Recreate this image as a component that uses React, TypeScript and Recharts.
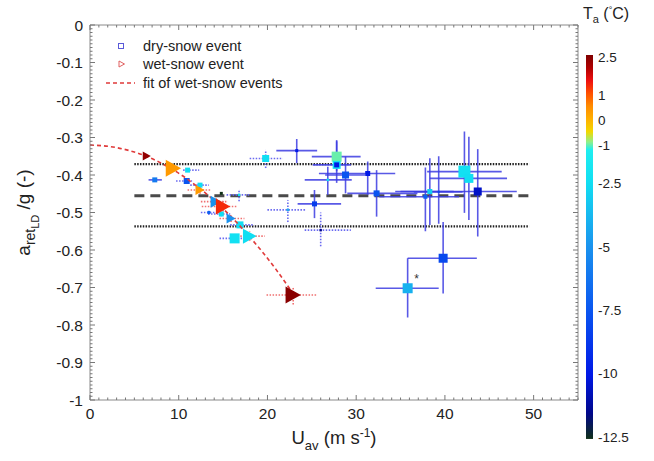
import {
  ScatterChart,
  Scatter,
  XAxis,
  YAxis,
  ErrorBar,
  ReferenceLine,
  ReferenceDot,
} from "recharts";

const FONT = '"Liberation Sans", Arial, Helvetica, sans-serif';

// columns: U_av, a/g, U min, U max, a/g min, a/g max, T_a (°C), released mass (rel.)
const dryEvents = [
  [23.3, -0.335, 21.0, 25.6, -0.368, -0.304, -10, 1.5],
  [27.8, -0.351, 25.0, 30.5, -0.39, -0.31, -1, 5],
  [27.8, -0.373, 25.1, 29.4, -0.421, -0.307, -2.5, 4],
  [27.8, -0.373, 27.8, 27.8, -0.373, -0.373, -10, 2.5],
  [28.8, -0.4, 26.5, 31.0, -0.449, -0.351, -7.5, 3.5],
  [31.3, -0.396, 25.8, 34.4, -0.453, -0.364, -10, 2.5],
  [32.3, -0.449, 29.0, 36.9, -0.511, -0.387, -7.5, 3],
  [25.3, -0.477, 23.4, 28.3, -0.515, -0.44, -8.5, 2.5],
  [26.8, -0.413, 24.2, 29.5, -0.453, -0.378, -2.5, 1.2],
  [42.2, -0.391, 38.0, 46.4, -0.501, -0.284, -2.3, 6],
  [42.7, -0.409, 38.3, 47.0, -0.52, -0.298, -2.5, 4.5],
  [43.7, -0.444, 34.4, 48.1, -0.564, -0.331, -10.5, 4],
  [38.3, -0.444, 35.0, 41.0, -0.533, -0.355, -3, 2.5],
  [37.8, -0.458, 32.6, 41.6, -0.55, -0.38, -7, 2],
  [39.3, -0.445, 36.5, 42.0, -0.53, -0.35, -8, 1],
  [39.8, -0.622, 35.8, 43.6, -0.716, -0.525, -8, 4.5],
  [35.8, -0.702, 32.2, 39.3, -0.78, -0.622, -4, 5],
  [7.3, -0.413, 6.6, 8.1, -0.418, -0.408, -6, 2.5],
];

// dry-snow events with less certain speed / deceleration
const dryEventsUncertain = [
  [19.8, -0.356, 18.0, 21.7, -0.381, -0.333, -2.5, 3.5],
  [22.3, -0.493, 20.0, 24.3, -0.525, -0.467, -4, 1.2],
  [26.0, -0.547, 24.2, 29.4, -0.59, -0.5, -11.5, 1.2],
  [10.9, -0.416, 9.7, 11.5, -0.42, -0.412, -7.5, 3],
  [11.0, -0.387, 10.5, 12.3, -0.392, -0.382, -2.5, 2.5],
  [16.3, -0.569, 14.6, 17.6, -0.58, -0.558, -2.3, 5],
  [16.9, -0.533, 15.8, 18.5, -0.54, -0.526, -2.5, 3.5],
  [14.8, -0.504, 13.3, 15.8, -0.51, -0.498, -2.5, 2.5],
  [16.8, -0.453, 15.4, 18.0, -0.47, -0.44, -2.5, 1.2],
  [14.8, -0.449, 14.8, 14.8, -0.449, -0.449, -12.5, 1.5],
  [12.4, -0.427, 11.3, 13.4, -0.433, -0.421, -2.5, 2.5],
  [13.4, -0.5, 12.5, 14.5, -0.505, -0.495, -7, 1.5],
];

const wetEvents = [
  [6.4, -0.349, 6.4, 6.4, -0.349, -0.349, 2.3, 4.5],
  [9.4, -0.382, 9.4, 9.4, -0.382, -0.382, 0.3, 8.5],
  [12.4, -0.44, 11.0, 13.6, -0.45, -0.43, 0.3, 5],
  [14.2, -0.471, 12.5, 15.5, -0.48, -0.462, -5, 6],
  [15.0, -0.484, 12.6, 16.5, -0.505, -0.465, 1.3, 8],
  [15.9, -0.516, 14.6, 17.4, -0.525, -0.508, -5, 5],
  [18.0, -0.563, 16.6, 19.7, -0.575, -0.55, -2.5, 7.5],
  [22.9, -0.72, 19.9, 25.5, -0.745, -0.7, 2.4, 8.5],
];

// fit of the wet-snow events
const fitU = [0, 3, 6, 9, 12, 15, 18, 21, 23];
const fitA = [-0.32, -0.327, -0.347, -0.381, -0.429, -0.49, -0.565, -0.653, -0.72];

// dry-snow mean and spread
const dryMean = -0.455;
const dryBand = [-0.371, -0.537];
const bandU = [5, 49.5];

const xTicks = [0, 10, 20, 30, 40, 50];
const yTicks = [0, -0.1, -0.2, -0.3, -0.4, -0.5, -0.6, -0.7, -0.8, -0.9, -1];
const tempTicks = [2.5, 1, 0, -1, -2.5, -5, -7.5, -10, -12.5];

// every tick position along the edges (labels only on the major ones)
const xAllTicks = Array.from({ length: 56 }, (_, i) => i);
const yAllTicks = Array.from({ length: 101 }, (_, i) => -i / 100);

const T_MAX = 2.5;
const T_MIN = -12.5;

const tempStops: [number, string][] = [
  [2.5, "#7f0000"],
  [2.0, "#b00000"],
  [1.5, "#ee1010"],
  [1.0, "#ff5000"],
  [0.5, "#ff8c00"],
  [0.0, "#ffb000"],
  [-0.5, "#f2d800"],
  [-0.9, "#8ff08a"],
  [-1.2, "#20eef0"],
  [-2.5, "#10def2"],
  [-3.5, "#16c0f0"],
  [-5, "#1a92ee"],
  [-7.5, "#0a55f0"],
  [-10, "#0018e6"],
  [-11.5, "#00078a"],
  [-12.5, "#103018"],
];

const rgb = (h: string) => [1, 3, 5].map((i) => parseInt(h.slice(i, i + 2), 16));

function tempColor(t: number) {
  if (t >= tempStops[0][0]) return tempStops[0][1];
  for (let i = 1; i < tempStops.length; i++) {
    const [t1, c1] = tempStops[i];
    const [t0, c0] = tempStops[i - 1];
    if (t >= t1) {
      const f = (t0 - t) / (t0 - t1);
      const a = rgb(c0);
      const b = rgb(c1);
      const m = a.map((v, k) => Math.round(v + (b[k] - v) * f));
      return `rgb(${m.join(",")})`;
    }
  }
  return tempStops[tempStops.length - 1][1];
}

const toRows = (rows: number[][]) =>
  rows.map(([u, a, uLo, uHi, aLo, aHi, t, m]) => ({
    u,
    a,
    uErr: [u - uLo, uHi - u],
    aErr: [a - aLo, aHi - a],
    t,
    m,
  }));

const dryRows = toRows(dryEvents);
const dryUncertainRows = toRows(dryEventsUncertain);
const wetRows = toRows(wetEvents);
const fitRows = fitU.map((u, i) => ({ u, a: fitA[i] }));

const W = 654;
const H = 461;
const MARGIN = { top: 25, right: 76, bottom: 31, left: 40 };
const X_AXIS_H = 30;
const Y_AXIS_W = 50;
const PLOT_W = W - MARGIN.left - MARGIN.right - Y_AXIS_W;
const PLOT_H = H - MARGIN.top - MARGIN.bottom - X_AXIS_H;
const AXIS_GREY = "#8a8a8a";

const Square = (p: any) => {
  const s = 2 * p.payload.m;
  return (
    <rect
      x={p.cx - s / 2}
      y={p.cy - s / 2}
      width={s}
      height={s}
      fill={tempColor(p.payload.t)}
    />
  );
};

const Triangle = (p: any) => {
  const h = 2 * p.payload.m;
  const w = h * 0.9;
  const { cx, cy } = p;
  return (
    <polygon
      points={`${cx - w / 2},${cy - h / 2} ${cx + w / 2},${cy} ${cx - w / 2},${cy + h / 2}`}
      fill={tempColor(p.payload.t)}
    />
  );
};

const NoMark = () => <g />;

const isMajor = (v: number, major: number[]) => major.some((m) => Math.abs(m - v) < 1e-6);
const fmtY = (v: number) => String(+v.toFixed(1));
const labelStyle = { fontSize: 15.5, fill: "#222", fontFamily: FONT };

// bottom ticks point inward, with matching ticks on the top edge
const BottomTick = (p: any) => {
  const v = p.payload.value;
  const major = isMajor(v, xTicks);
  const len = major ? 5 : 2.5;
  return (
    <g>
      <line x1={p.x} y1={p.y} x2={p.x} y2={p.y - len} stroke="#777" />
      <line x1={p.x} y1={p.y - PLOT_H} x2={p.x} y2={p.y - PLOT_H + len} stroke="#777" />
      {major && (
        <text x={p.x} y={p.y + 8} dy="0.71em" textAnchor="middle" {...labelStyle}>
          {v}
        </text>
      )}
    </g>
  );
};

// left ticks point inward, with matching ticks on the right edge
const LeftTick = (p: any) => {
  const v = p.payload.value;
  const major = isMajor(v, yTicks);
  const len = major ? 5 : 2.5;
  return (
    <g>
      <line x1={p.x} y1={p.y} x2={p.x + len} y2={p.y} stroke="#777" />
      <line x1={p.x + PLOT_W} y1={p.y} x2={p.x + PLOT_W - len} y2={p.y} stroke="#777" />
      {major && (
        <text x={p.x - 7} y={p.y} dy="0.36em" textAnchor="end" {...labelStyle}>
          {fmtY(v)}
        </text>
      )}
    </g>
  );
};

const XTitle = ({ viewBox }: any) => (
  <text
    x={viewBox.x + viewBox.width / 2}
    y={viewBox.y + 44}
    textAnchor="middle"
    fontSize={18.5}
    fill="#222"
    fontFamily={FONT}
  >
    U<tspan dy={6} fontSize={13}>av</tspan>
    <tspan dy={-6}> (m s</tspan>
    <tspan dy={-7} fontSize={12}>-1</tspan>
    <tspan dy={7}>)</tspan>
  </text>
);

const YTitle = ({ viewBox }: any) => {
  const x = viewBox.x - 10;
  const y = viewBox.y + viewBox.height / 2;
  return (
    <text
      x={x}
      y={y}
      transform={`rotate(-90, ${x}, ${y})`}
      textAnchor="middle"
      fontSize={19}
      fill="#222"
      fontFamily={FONT}
    >
      a<tspan dy={5} fontSize={14}>ret</tspan>
      <tspan dy={4} fontSize={11}>LD</tspan>
      <tspan dy={-9}> /g (-)</tspan>
    </text>
  );
};

const CB_TOP = 57;
const CB_PX = 25.33;
const cbY = (t: number) => CB_TOP + (T_MAX - t) * CB_PX;

function Overlay() {
  return (
    <svg
      width={W}
      height={H}
      style={{ position: "absolute", left: 0, top: 0, pointerEvents: "none" }}
      fontFamily={FONT}
    >
      <defs>
        <linearGradient id="tempScale" x1="0" y1="0" x2="0" y2="1">
          {tempStops.map(([t, c]) => (
            <stop key={t} offset={(T_MAX - t) / (T_MAX - T_MIN)} stopColor={c} />
          ))}
        </linearGradient>
      </defs>

      {/* legend */}
      <rect x={118.5} y={43.5} width={5} height={5} fill="none" stroke="#5a5ad8" />
      <polygon points="119,61 124.5,64 119,67" fill="none" stroke="#e06060" />
      <line x1={106} y1={83} x2={135} y2={83} stroke="#e03a3a" strokeWidth={1.5} strokeDasharray="4 3" />
      <text x={143} y={51} fontSize={14.5} fill="#222">dry-snow event</text>
      <text x={143} y={69} fontSize={14.5} fill="#222">wet-snow event</text>
      <text x={143} y={88} fontSize={14.5} fill="#222">fit of wet-snow events</text>

      {/* colour scale */}
      <text x={583} y={19} fontSize={16} fill="#222">
        T<tspan dy={4} fontSize={11}>a</tspan>
        <tspan dy={-4}> (</tspan>
        <tspan dy={-6} fontSize={9}>°</tspan>
        <tspan dy={6}>C)</tspan>
      </text>
      <rect x={586} y={cbY(T_MAX) - 2} width={7} height={cbY(T_MIN) - cbY(T_MAX) + 4} fill="url(#tempScale)" />
      {tempTicks.map((t) => (
        <text key={t} x={598} y={cbY(t)} dy="0.35em" fontSize={13.5} fill="#222">
          {t}
        </text>
      ))}
    </svg>
  );
}

export default function App() {
  return (
    <div
      style={{
        position: "absolute",
        left: 0,
        top: 0,
        width: W,
        height: H,
        background: "#fff",
        fontFamily: FONT,
      }}
    >
      <ScatterChart width={W} height={H} margin={MARGIN}>
        <XAxis
          type="number"
          dataKey="u"
          domain={[0, 55]}
          ticks={xAllTicks}
          allowDataOverflow
          interval={0}
          tickLine={false}
          tickSize={0}
          tickMargin={0}
          tick={BottomTick}
          axisLine={{ stroke: AXIS_GREY }}
          height={X_AXIS_H}
          label={{ content: XTitle }}
        />
        <YAxis
          type="number"
          dataKey="a"
          domain={[-1, 0]}
          ticks={yAllTicks}
          allowDataOverflow
          interval={0}
          tickLine={false}
          tickSize={0}
          tickMargin={0}
          tick={LeftTick}
          axisLine={{ stroke: AXIS_GREY }}
          width={Y_AXIS_W}
          label={{ content: YTitle }}
        />
        {/* top and right edges of the box */}
        <ReferenceLine y={0} stroke={AXIS_GREY} />
        <ReferenceLine x={55} stroke={AXIS_GREY} />

        <ReferenceLine
          segment={[{ x: bandU[0], y: dryBand[0] }, { x: bandU[1], y: dryBand[0] }]}
          stroke="#222"
          strokeWidth={2.2}
          strokeDasharray="1.5 1.3"
        />
        <ReferenceLine
          segment={[{ x: bandU[0], y: dryMean }, { x: bandU[1], y: dryMean }]}
          stroke="#4a4a4a"
          strokeWidth={3}
          strokeDasharray="10 6"
        />
        <ReferenceLine
          segment={[{ x: bandU[0], y: dryBand[1] }, { x: bandU[1], y: dryBand[1] }]}
          stroke="#222"
          strokeWidth={2.2}
          strokeDasharray="1.5 1.3"
        />

        <Scatter data={dryUncertainRows} shape={Square} isAnimationActive={false}>
          <ErrorBar dataKey="uErr" direction="x" width={0} stroke="#6a6af0" strokeWidth={1.6} strokeDasharray="1.5 1.5" />
          <ErrorBar dataKey="aErr" direction="y" width={0} stroke="#6a6af0" strokeWidth={1.6} strokeDasharray="1.5 1.5" />
        </Scatter>
        <Scatter data={dryRows} shape={Square} isAnimationActive={false}>
          <ErrorBar dataKey="uErr" direction="x" width={0} stroke="#3c3ce2" strokeWidth={1.6} strokeOpacity={0.85} />
          <ErrorBar dataKey="aErr" direction="y" width={0} stroke="#3c3ce2" strokeWidth={1.6} strokeOpacity={0.85} />
        </Scatter>
        <Scatter
          data={fitRows}
          fill="none"
          line={{ stroke: "#e03a3a", strokeWidth: 1.6, strokeDasharray: "4 3" }}
          lineJointType="monotoneX"
          shape={NoMark}
          isAnimationActive={false}
        />
        <Scatter data={wetRows} shape={Triangle} isAnimationActive={false}>
          <ErrorBar dataKey="uErr" direction="x" width={0} stroke="#f07070" strokeWidth={1.6} strokeDasharray="1.5 1.5" />
          <ErrorBar dataKey="aErr" direction="y" width={0} stroke="#f07070" strokeWidth={1.6} strokeDasharray="1.5 1.5" />
        </Scatter>
        <ReferenceDot
          x={36.8}
          y={-0.676}
          r={0}
          fill="none"
          stroke="none"
          label={{ value: "*", position: "center", fontSize: 12, fill: "#333" }}
        />
      </ScatterChart>
      <Overlay />
    </div>
  );
}
